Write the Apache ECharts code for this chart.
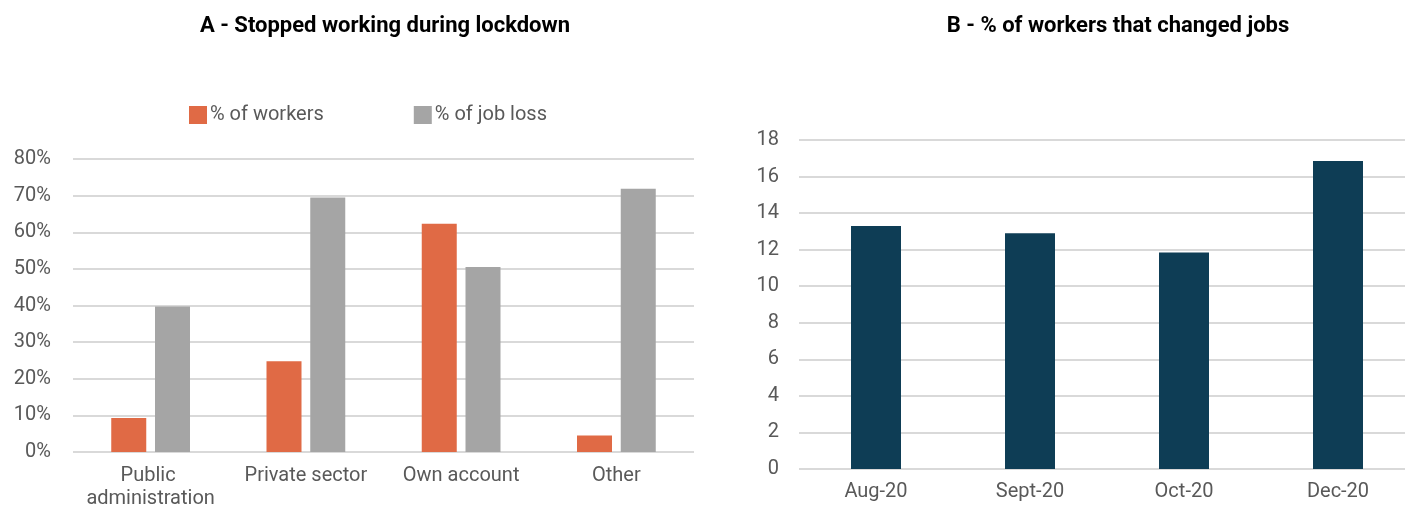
<!DOCTYPE html>
<html>
<head>
<meta charset="utf-8">
<script src="https://cdn.jsdelivr.net/npm/echarts@6/dist/echarts.min.js"></script>
<style>
  html, body { margin: 0; padding: 0; background: #ffffff; }
  #chart { width: 1405px; height: 506px; }
</style>
</head>
<body>
<div id="chart"></div>
<script>
// Panel A: stopped working during lockdown, by sector
const sectorCategories = ['Public administration', 'Private sector', 'Own account', 'Other'];
const shareOfWorkers = [9.3, 24.8, 62.3, 4.5];
const shareOfJobLoss = [39.7, 69.5, 50.5, 71.9];

// Panel B: % of workers that changed jobs, by month
const monthCategories = ['Aug-20', 'Sept-20', 'Oct-20', 'Dec-20'];
const changedJobs = [13.3, 12.9, 11.85, 16.85];

const FONT = 'Roboto, "Liberation Sans", sans-serif';
const LABEL_COLOR = '#595959';
const GRID_COLOR = '#D9D9D9';
const LABEL_SIZE = 20;

const chart = echarts.init(document.getElementById('chart'), null, { renderer: 'canvas' });

chart.setOption({
  animation: false,
  backgroundColor: '#ffffff',
  textStyle: { fontFamily: FONT },
  title: [
    {
      text: 'A - Stopped working during lockdown',
      left: 380, top: 10, textAlign: 'center',
      textStyle: { fontFamily: FONT, fontWeight: 'bold', fontSize: 22, color: '#000000' }
    },
    {
      text: 'B - % of workers that changed jobs',
      left: 1113, top: 10, textAlign: 'center',
      textStyle: { fontFamily: FONT, fontWeight: 'bold', fontSize: 22, color: '#000000' }
    }
  ],
  legend: {
    left: 189, top: 105, padding: 0,
    itemWidth: 18, itemHeight: 18, itemGap: 90,
    icon: 'rect',
    textStyle: { fontFamily: FONT, fontSize: LABEL_SIZE, color: LABEL_COLOR, padding: [2, 0, 0, -2] },
    data: ['% of workers', '% of job loss']
  },
  grid: [
    { left: 73, right: 711, top: 159, bottom: 54, outerBoundsMode: 'none' },
    { left: 799, width: 616, top: 140, bottom: 37, outerBoundsMode: 'none' }
  ],
  xAxis: [
    {
      type: 'category', gridIndex: 0, data: sectorCategories,
      axisLine: { show: false }, axisTick: { show: false },
      axisLabel: {
        color: LABEL_COLOR, fontSize: LABEL_SIZE, margin: 12, lineHeight: 23,
        width: 150, overflow: 'break', interval: 0
      }
    },
    {
      type: 'category', gridIndex: 1, data: monthCategories,
      axisLine: { show: false }, axisTick: { show: false },
      axisLabel: { color: LABEL_COLOR, fontSize: LABEL_SIZE, margin: 13, interval: 0 }
    }
  ],
  yAxis: [
    {
      type: 'value', gridIndex: 0, min: 0, max: 80, interval: 10,
      axisLine: { show: false }, axisTick: { show: false },
      axisLabel: { color: LABEL_COLOR, fontSize: LABEL_SIZE, margin: 22, formatter: '{value}%' },
      splitLine: { lineStyle: { color: GRID_COLOR, width: 2 } }
    },
    {
      type: 'value', gridIndex: 1, min: 0, max: 18, interval: 2,
      axisLine: { show: false }, axisTick: { show: false },
      axisLabel: { color: LABEL_COLOR, fontSize: LABEL_SIZE, margin: 20 },
      splitLine: { lineStyle: { color: GRID_COLOR, width: 2 } }
    }
  ],
  series: [
    {
      name: '% of workers', type: 'bar', xAxisIndex: 0, yAxisIndex: 0,
      data: shareOfWorkers, barWidth: 35, barGap: '25%',
      itemStyle: { color: '#E06A45' }
    },
    {
      name: '% of job loss', type: 'bar', xAxisIndex: 0, yAxisIndex: 0,
      data: shareOfJobLoss, barWidth: 35, barGap: '25%',
      itemStyle: { color: '#A5A5A5' }
    },
    {
      name: 'Changed jobs', type: 'bar', xAxisIndex: 1, yAxisIndex: 1,
      data: changedJobs, barWidth: 50,
      itemStyle: { color: '#0E3D55' }
    }
  ]
});
</script>
</body>
</html>
